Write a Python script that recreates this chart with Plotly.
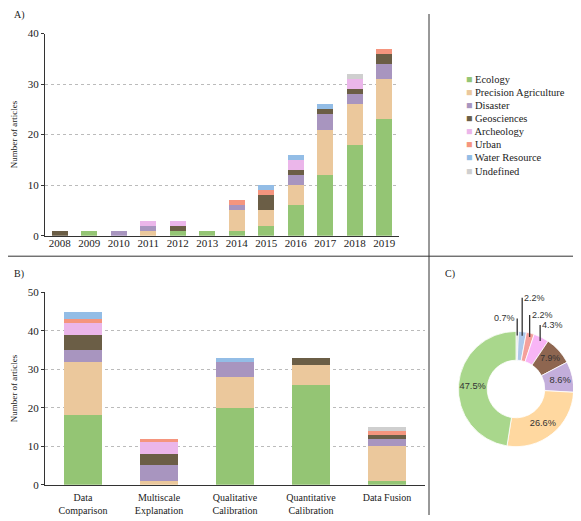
import math
import plotly.graph_objects as go

# ---------------- data ----------------
categories = ["Ecology", "Precision Agriculture", "Disaster", "Geosciences",
              "Archeology", "Urban", "Water Resource", "Undefined"]

years = ["2008", "2009", "2010", "2011", "2012", "2013",
         "2014", "2015", "2016", "2017", "2018", "2019"]
ecology_year = [0, 1, 0, 0, 1, 1, 1, 2, 6, 12, 18, 23]
precision_year = [0, 0, 0, 1, 0, 0, 4, 3, 4, 9, 8, 8]
disaster_year = [0, 0, 1, 1, 0, 0, 1, 0, 2, 3, 2, 3]
geosciences_year = [1, 0, 0, 0, 1, 0, 0, 3, 1, 1, 1, 2]
archeology_year = [0, 0, 0, 1, 1, 0, 0, 0, 2, 0, 2, 0]
urban_year = [0, 0, 0, 0, 0, 0, 1, 1, 0, 0, 0, 1]
water_year = [0, 0, 0, 0, 0, 0, 0, 1, 1, 1, 0, 0]
undefined_year = [0, 0, 0, 0, 0, 0, 0, 0, 0, 0, 1, 0]

methods = ["Data<br>Comparison", "Multiscale<br>Explanation", "Qualitative<br>Calibration",
           "Quantitative<br>Calibration", "Data Fusion"]
ecology_method = [18, 0, 20, 26, 1]
precision_method = [14, 1, 8, 5, 9]
disaster_method = [3, 4, 4, 0, 2]
geosciences_method = [4, 3, 0, 2, 1]
archeology_method = [3, 3, 0, 0, 0]
urban_method = [1, 1, 0, 0, 1]
water_method = [2, 0, 1, 0, 0]
undefined_method = [0, 0, 0, 0, 1]

pie_percent = [47.5, 26.6, 8.6, 7.9, 4.3, 2.2, 2.2, 0.7]

# ---------------- styles ----------------
bar_colors = ["#94C574", "#EBC89C", "#A895BF", "#6B5E46",
              "#EBB6EA", "#F5957E", "#93BDE6", "#CFCFCF"]
pie_colors = ["#A9D78C", "#FFD8A0", "#C3AEDB", "#8E6650",
              "#F8B5F6", "#F5A09B", "#AEC8EA", "#DDDDDD"]

# page body has an 8px margin: figure is sized/positioned to fill the 581x521 view
OFF = 8
W, H = 581 - OFF, 521 - OFF


def px(x):
    return (x - OFF) / W


def py(y):
    return 1 - (y - OFF) / H


SERIF = "Liberation Serif"
SANS = "Liberation Sans"

year_series = [ecology_year, precision_year, disaster_year, geosciences_year,
               archeology_year, urban_year, water_year, undefined_year]
method_series = [ecology_method, precision_method, disaster_method, geosciences_method,
                 archeology_method, urban_method, water_method, undefined_method]

fig = go.Figure()

for name, vals, col in zip(categories, year_series, bar_colors):
    fig.add_trace(go.Bar(x=years, y=vals, name=name, marker_color=col,
                         marker_line_width=0, xaxis="x", yaxis="y",
                         showlegend=False, hoverinfo="x+y+name"))

for name, vals, col in zip(categories, method_series, bar_colors):
    fig.add_trace(go.Bar(x=methods, y=vals, name=name, marker_color=col,
                         marker_line_width=0, xaxis="x2", yaxis="y2", width=0.5,
                         showlegend=False, hoverinfo="x+y+name"))

# pie (counter-clockwise from 12 o'clock == clockwise with reversed order)
pie_dom_x = [px(457), px(575)]
pie_dom_y = [py(451), py(333)]
pie_text = [f"{v:.1f}%" if v >= 5 else "" for v in pie_percent]
fig.add_trace(go.Pie(values=pie_percent[::-1], labels=categories[::-1], hole=0.5,
                     sort=False, direction="clockwise", rotation=0,
                     marker=dict(colors=pie_colors[::-1], line=dict(color="white", width=0.8)),
                     text=pie_text[::-1], textinfo="text", textposition="inside",
                     insidetextorientation="horizontal",
                     textfont=dict(family=SANS, size=9.5, color="#333333"),
                     domain=dict(x=pie_dom_x, y=pie_dom_y), showlegend=False))

axis_common = dict(showline=True, linecolor="#333333", linewidth=1)

fig.update_layout(
    width=W, height=H,
    margin=dict(l=0, r=0, t=0, b=0),
    paper_bgcolor="white", plot_bgcolor="white",
    barmode="stack", bargap=0.46,
    showlegend=False,
    font=dict(family=SERIF, size=11, color="#222222"),
    xaxis=dict(domain=[px(45), px(399)], anchor="y", ticks="", ticklabelstandoff=-3,
               tickfont=dict(family=SERIF, size=11, color="#222222"), **axis_common),
    yaxis=dict(domain=[py(235), py(28)], anchor="x", range=[0, 40],
               tickvals=[0, 10, 20, 30, 40], ticks="outside", ticklen=3,
               tickcolor="#333333", showgrid=True, gridcolor="#BBBBBB",
               griddash="dot", gridwidth=1, zeroline=False,
               tickfont=dict(family=SERIF, size=11, color="#222222"),
               title=dict(text="Number of articles", font=dict(family=SERIF, size=9),
                          standoff=8),
               **axis_common),
    xaxis2=dict(domain=[px(45), px(425)], anchor="y2", ticks="", ticklabelstandoff=3,
                tickfont=dict(family=SERIF, size=10, color="#222222"), **axis_common),
    yaxis2=dict(domain=[py(490), py(293)], anchor="x2", range=[0, 50],
                tickvals=[0, 10, 20, 30, 40, 50], ticks="outside", ticklen=3,
                tickcolor="#333333", showgrid=True, gridcolor="#BBBBBB",
                griddash="dot", gridwidth=1, zeroline=False,
                tickfont=dict(family=SERIF, size=11, color="#222222"),
                title=dict(text="Number of articles", font=dict(family=SERIF, size=9),
                           standoff=8),
                **axis_common),
)

# frame lines
fig.add_shape(type="line", xref="paper", yref="paper", x0=px(429), x1=px(429),
              y0=0, y1=1, line=dict(color="#333333", width=1))
fig.add_shape(type="line", xref="paper", yref="paper", x0=0, x1=1,
              y0=py(256), y1=py(256), line=dict(color="#333333", width=1))

# panel labels
for txt, lx, ly in [("A)", 12, 9), ("B)", 12, 274), ("C)", 443, 274)]:
    fig.add_annotation(text=txt, x=px(lx), y=py(ly), xref="paper", yref="paper",
                       xanchor="left", yanchor="middle", showarrow=False,
                       font=dict(family=SERIF, size=10, color="#222222"))

# legend (manual, compact)
for i, (name, col) in enumerate(zip(categories, bar_colors)):
    fig.add_annotation(text=f'<span style="color:{col}">■</span> {name}',
                       x=px(464), y=py(75 + 13.4 * i), xref="paper", yref="paper",
                       xanchor="left", yanchor="middle", showarrow=False,
                       font=dict(family=SERIF, size=10.5, color="#222222"))

# pie leader labels for small slices
cx = (pie_dom_x[0] + pie_dom_x[1]) / 2 * W
cy = (1 - (pie_dom_y[0] + pie_dom_y[1]) / 2) * H
R = min((pie_dom_x[1] - pie_dom_x[0]) * W, (pie_dom_y[1] - pie_dom_y[0]) * H) / 2
leader_len = {4: 16, 5: 22, 6: 38, 7: 17}
leader_side = {4: "left", 5: "left", 6: "left", 7: "right"}
total = sum(pie_percent)
cum = 0.0
for i, v in enumerate(pie_percent):
    mid = (cum + v / 2) / total
    cum += v
    if i not in leader_len:
        continue
    th = 2 * math.pi * mid
    hx = cx - 0.93 * R * math.sin(th)
    hy = cy - 0.93 * R * math.cos(th)
    fig.add_annotation(text=f"{v:.1f}%", x=hx / W, y=1 - hy / H, xref="paper", yref="paper",
                       showarrow=True, arrowhead=0, arrowwidth=1.3, arrowcolor="#333333",
                       ax=0, ay=-leader_len[i], xanchor=leader_side[i],
                       font=dict(family=SANS, size=9, color="#333333"))

fig.write_html("out.html")
